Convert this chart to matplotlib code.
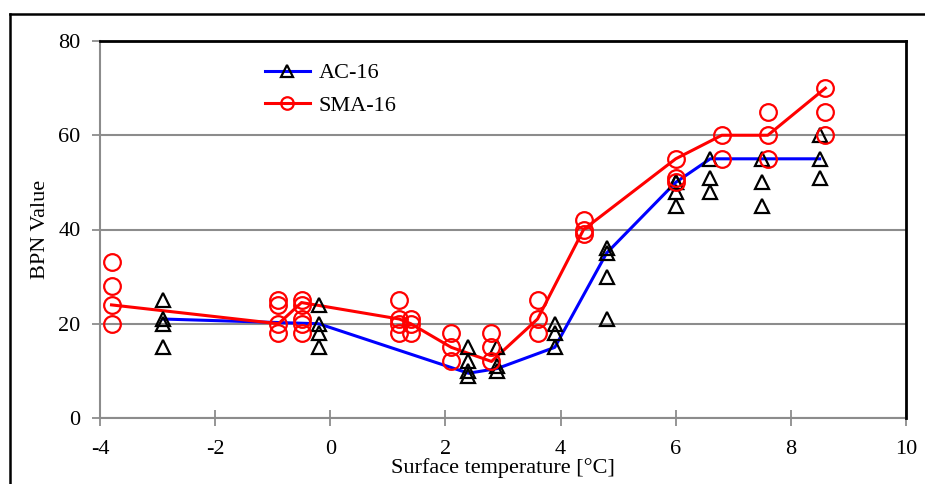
import matplotlib
matplotlib.use('Agg')
import matplotlib.pyplot as plt
from matplotlib.lines import Line2D

plt.rcParams['font.family'] = ['Liberation Serif', 'DejaVu Serif']
plt.rcParams['axes.unicode_minus'] = False

# AC-16 individual measurements
ac_x = [-2.9, -2.9, -2.9, -2.9,
        -0.2, -0.2, -0.2, -0.2,
        2.4, 2.4, 2.4, 2.4,
        2.9, 2.9, 2.9,
        3.9, 3.9, 3.9,
        4.8, 4.8, 4.8, 4.8,
        6.0, 6.0, 6.0, 6.0,
        6.6, 6.6, 6.6,
        7.5, 7.5, 7.5,
        8.5, 8.5, 8.5]
ac_y = [25, 21, 20, 15,
        24, 20, 18, 15,
        15, 12, 10, 9,
        15, 11, 10,
        20, 18, 15,
        36, 35, 30, 21,
        50, 48, 45, 50,
        55, 51, 48,
        55, 50, 45,
        60, 55, 51]
# AC-16 mean line
ac_mean_x = [-2.9, -0.2, 2.4, 2.9, 3.9, 4.8, 6.0, 6.6, 7.5, 8.5]
ac_mean_y = [21, 20, 9.5, 10.5, 15, 35, 50, 55, 55, 55]

# SMA-16 individual measurements
sma_x = [-3.8, -3.8, -3.8, -3.8,
         -0.9, -0.9, -0.9, -0.9,
         -0.5, -0.5, -0.5, -0.5, -0.5,
         1.2, 1.2, 1.2, 1.2,
         1.4, 1.4, 1.4,
         2.1, 2.1, 2.1,
         2.8, 2.8, 2.8,
         3.6, 3.6, 3.6,
         4.4, 4.4, 4.4,
         6.0, 6.0, 6.0,
         6.8, 6.8,
         7.6, 7.6, 7.6,
         8.6, 8.6, 8.6]
sma_y = [33, 28, 24, 20,
         25, 24, 20, 18,
         25, 24, 21, 20, 18,
         25, 21, 20, 18,
         21, 20, 18,
         18, 15, 12,
         18, 15, 12,
         25, 21, 18,
         42, 40, 39,
         55, 51, 50,
         60, 55,
         65, 60, 55,
         70, 65, 60]
# SMA-16 mean line
sma_mean_x = [-3.8, -0.9, -0.5, 1.2, 1.4, 2.1, 2.8, 3.6, 4.4, 6.0, 6.8, 7.6, 8.6]
sma_mean_y = [24, 20, 24.5, 21, 20, 15, 12, 21, 40, 55, 60, 60, 70]

x_ticks = [-4, -2, 0, 2, 4, 6, 8, 10]
y_ticks = [0, 20, 40, 60, 80]

fig = plt.figure(figsize=(9.25, 4.84), dpi=100)
ax = fig.add_axes([100 / 925, 66 / 484, 806 / 925, 377 / 484])

grey = '#8c8c8c'
ax.set_xlim(-4, 10)
ax.set_ylim(0, 80)
ax.set_yticks(y_ticks)
ax.set_xticks(x_ticks)
ax.yaxis.grid(True, color=grey, linewidth=1.5)
ax.set_axisbelow(True)

ax.plot(ac_mean_x, ac_mean_y, color='#0000ff', linewidth=2.2, zorder=3)
ax.plot(sma_mean_x, sma_mean_y, color='#ff0000', linewidth=2.2, zorder=3)
ax.plot(ac_x, ac_y, linestyle='none', marker='^', markersize=10,
        markerfacecolor='none', markeredgecolor='black', markeredgewidth=1.6, zorder=4)
ax.plot(sma_x, sma_y, linestyle='none', marker='o', markersize=12,
        markerfacecolor='none', markeredgecolor='#ff0000', markeredgewidth=1.6, zorder=4)

for side in ['left', 'bottom']:
    ax.spines[side].set_color(grey)
    ax.spines[side].set_linewidth(1.5)
for side in ['top', 'right']:
    ax.spines[side].set_color('black')
    ax.spines[side].set_linewidth(2)
    ax.spines[side].set_zorder(5)

ax.tick_params(axis='x', direction='inout', length=12, width=1.3, color=grey,
               labelsize=16, pad=10)
ax.tick_params(axis='y', direction='out', length=6, width=1.3, color=grey,
               labelsize=16, pad=8)

ax.set_xlabel('Surface temperature [\u00b0C]', fontsize=16, labelpad=-1)
ax.set_ylabel('BPN Value', fontsize=16, labelpad=6)

handles = [
    Line2D([], [], color='#0000ff', linewidth=2.2, marker='^', markersize=9,
           markerfacecolor='none', markeredgecolor='black', markeredgewidth=1.6),
    Line2D([], [], color='#ff0000', linewidth=2.2, marker='o', markersize=9,
           markerfacecolor='none', markeredgecolor='#ff0000', markeredgewidth=1.6),
]
ax.legend(handles, ['AC-16', 'SMA-16'], loc='upper left', bbox_to_anchor=(0.18, 0.995),
          frameon=False, fontsize=16, handlelength=2.0, handletextpad=0.4,
          labelspacing=0.55)

# outer frame
fig.add_artist(Line2D([10 / 925, 10 / 925], [0, 1 - 14 / 484], transform=fig.transFigure,
                      color='black', linewidth=1.8))
fig.add_artist(Line2D([10 / 925, 1], [1 - 14 / 484, 1 - 14 / 484], transform=fig.transFigure,
                      color='black', linewidth=1.8))

fig.savefig('out.png', dpi=100)
